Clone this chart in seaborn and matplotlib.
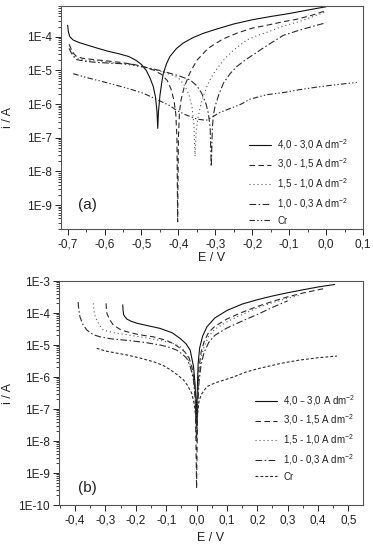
import math
import matplotlib
matplotlib.use("Agg")
import matplotlib.pyplot as plt
import matplotlib.ticker as mticker
import seaborn as sns

# ---------------- panel (a) data ----------------
a_solid_E = [-0.700, -0.698, -0.694, -0.685, -0.670, -0.650, -0.620, -0.590, -0.560, -0.535, -0.515,
             -0.500, -0.487, -0.477, -0.468, -0.462, -0.458, -0.456, -0.454, -0.450, -0.445, -0.441,
             -0.432, -0.423, -0.405, -0.387, -0.360, -0.333, -0.300, -0.250, -0.200, -0.150, -0.100,
             -0.050, 0.000]
a_solid_i = [2.2e-4, 1.4e-4, 1.0e-4, 8.0e-5, 6.8e-5, 5.8e-5, 4.6e-5, 3.7e-5, 3.1e-5, 2.6e-5, 2.0e-5,
             1.5e-5, 1.0e-5, 6.0e-6, 3.3e-6, 1.6e-6, 6e-7, 1.9e-7, 6e-7, 1.8e-6, 4.5e-6, 8e-6,
             1.6e-5, 2.6e-5, 4.5e-5, 6.5e-5, 9.5e-5, 1.26e-4, 1.65e-4, 2.4e-4, 3.2e-4, 4.0e-4, 4.9e-4,
             6.2e-4, 7.8e-4]

a_dash_E = [-0.696, -0.690, -0.684, -0.676, -0.660, -0.630, -0.600, -0.560, -0.520, -0.490, -0.465,
            -0.445, -0.430, -0.420, -0.412, -0.407, -0.404, -0.402, -0.400, -0.397, -0.393, -0.385,
            -0.370, -0.350, -0.320, -0.280, -0.240, -0.200, -0.160, -0.116, -0.080, -0.040, 0.000]
a_dash_i = [6.0e-5, 4.2e-5, 3.2e-5, 2.6e-5, 2.3e-5, 2.1e-5, 1.95e-5, 1.75e-5, 1.5e-5, 1.25e-5, 1.0e-5,
            7.5e-6, 5e-6, 2.8e-6, 1.3e-6, 5e-7, 1e-7, 3.2e-10, 1e-7, 6e-7, 1.3e-6, 3e-6,
            8e-6, 2e-5, 4.5e-5, 8.5e-5, 1.3e-4, 1.8e-4, 2.2e-4, 2.8e-4, 3.3e-4, 4.3e-4, 6.0e-4]

a_dot_E = [-0.696, -0.690, -0.684, -0.676, -0.650, -0.612, -0.560, -0.520, -0.480, -0.450, -0.420,
           -0.400, -0.385, -0.372, -0.363, -0.358, -0.355, -0.352, -0.347, -0.341, -0.333, -0.320,
           -0.305, -0.296, -0.275, -0.251, -0.215, -0.190, -0.161, -0.120, -0.070, -0.030, 0.000]
a_dot_i = [5.5e-5, 3.8e-5, 2.8e-5, 2.3e-5, 2.0e-5, 1.9e-5, 1.6e-5, 1.4e-5, 1.15e-5, 9.5e-6, 7.5e-6,
           6e-6, 3.8e-6, 2e-6, 8e-7, 2.5e-7, 2.8e-8, 1.5e-7, 4e-7, 8e-7, 1.7e-6, 4e-6,
           8e-6, 1.1e-5, 2.2e-5, 4e-5, 8e-5, 1.05e-4, 1.35e-4, 2e-4, 2.9e-4, 4.2e-4, 5.5e-4]

a_dd_E = [-0.696, -0.690, -0.684, -0.676, -0.650, -0.612, -0.560, -0.531, -0.450, -0.400, -0.368,
          -0.350, -0.337, -0.325, -0.319, -0.314, -0.311, -0.308, -0.305, -0.301, -0.290, -0.278,
          -0.260, -0.242, -0.220, -0.200, -0.160, -0.116, -0.070, -0.025, 0.000]
a_dd_i = [4.5e-5, 3.3e-5, 2.6e-5, 2.1e-5, 1.85e-5, 1.7e-5, 1.6e-5, 1.55e-5, 1.0e-5, 7e-6, 5.2e-6,
          3.5e-6, 2.1e-6, 1e-6, 5.4e-7, 2e-7, 1.4e-8, 2e-7, 5e-7, 8.3e-7, 2e-6, 4.2e-6,
          8e-6, 1.3e-5, 2e-5, 2.8e-5, 5.5e-5, 1.1e-4, 1.6e-4, 2.2e-4, 2.6e-4]

a_cr_E = [-0.685, -0.650, -0.600, -0.540, -0.495, -0.460, -0.423, -0.405, -0.380, -0.350, -0.325,
          -0.310, -0.290, -0.260, -0.230, -0.206, -0.161, -0.116, -0.070, -0.025, 0.030, 0.083]
a_cr_i = [8e-6, 6.2e-6, 4.5e-6, 3e-6, 2.1e-6, 1.4e-6, 9e-7, 6.5e-7, 4.8e-7, 3.6e-7, 3.3e-7,
          4e-7, 5.5e-7, 7.4e-7, 1.0e-6, 1.4e-6, 1.9e-6, 2.2e-6, 2.7e-6, 3.2e-6, 3.8e-6, 4.4e-6]

# ---------------- panel (b) data ----------------
b_solid_E = [-0.243, -0.242, -0.240, -0.230, -0.215, -0.197, -0.160, -0.120, -0.080, -0.054, -0.035,
             -0.021, -0.010, -0.005, -0.002, 0.000, 0.002, 0.005, 0.010, 0.020, 0.034, 0.060, 0.100,
             0.150, 0.200, 0.250, 0.300, 0.350, 0.400, 0.455]
b_solid_i = [1.8e-4, 1.2e-4, 8.7e-5, 6.5e-5, 5.5e-5, 4.8e-5, 4e-5, 3.3e-5, 2.4e-5, 1.6e-5, 1.1e-5,
             6.9e-6, 2.1e-6, 6e-7, 1.5e-7, 3e-8, 3e-7, 2.5e-6, 8e-6, 1.9e-5, 3.7e-5, 7e-5, 1.2e-4,
             1.9e-4, 2.6e-4, 3.4e-4, 4.3e-4, 5.3e-4, 6.5e-4, 7.8e-4]

b_dash_E = [-0.298, -0.297, -0.295, -0.285, -0.274, -0.250, -0.230, -0.190, -0.142, -0.100, -0.076,
            -0.050, -0.038, -0.025, -0.015, -0.008, -0.004, 0.000, 0.004, 0.008, 0.015, 0.025, 0.040,
            0.060, 0.100, 0.150, 0.200, 0.250, 0.300, 0.350, 0.420]
b_dash_i = [2e-4, 1.3e-4, 9.5e-5, 6e-5, 4.2e-5, 3e-5, 2.6e-5, 2.1e-5, 1.8e-5, 1.4e-5, 1.1e-5,
            7.5e-6, 6e-6, 4e-6, 2e-6, 8e-7, 2e-7, 3.3e-10, 3e-7, 2e-6, 6e-6, 1.3e-5, 2.5e-5,
            3.8e-5, 6.5e-5, 1.05e-4, 1.6e-4, 2.3e-4, 3.2e-4, 4.2e-4, 5.8e-4]

b_dot_E = [-0.340, -0.338, -0.334, -0.320, -0.307, -0.270, -0.230, -0.170, -0.120, -0.080, -0.054,
           -0.040, -0.030, -0.018, -0.010, -0.004, 0.000, 0.004, 0.008, 0.015, 0.025, 0.040, 0.060,
           0.100, 0.150, 0.200, 0.250, 0.300, 0.340]
b_dot_i = [2e-4, 1.2e-4, 7.6e-5, 4.2e-5, 2.9e-5, 2.4e-5, 2.1e-5, 1.7e-5, 1.4e-5, 1.15e-5, 8.9e-6,
           6.5e-6, 4.3e-6, 2e-6, 8e-7, 2e-7, 2e-8, 2e-7, 1.2e-6, 4e-6, 9e-6, 1.9e-5, 3.1e-5,
           5.3e-5, 9e-5, 1.45e-4, 2.1e-4, 2.9e-4, 3.6e-4]

b_dd_E = [-0.390, -0.388, -0.384, -0.375, -0.361, -0.340, -0.318, -0.280, -0.230, -0.170, -0.120,
          -0.090, -0.065, -0.045, -0.032, -0.020, -0.010, -0.004, 0.000, 0.004, 0.008, 0.015, 0.025,
          0.040, 0.060, 0.100, 0.150, 0.200, 0.250, 0.300]
b_dd_i = [2.2e-4, 1.3e-4, 7.6e-5, 4.5e-5, 2.9e-5, 2.1e-5, 1.8e-5, 1.55e-5, 1.4e-5, 1.2e-5, 1e-5,
          8.5e-6, 6.9e-6, 5e-6, 3.8e-6, 2e-6, 8e-7, 2e-7, 1e-8, 1.5e-7, 7e-7, 2.5e-6, 6e-6,
          1.2e-5, 2e-5, 3.4e-5, 5.6e-5, 9e-5, 1.5e-4, 2.4e-4]

b_cr_E = [-0.329, -0.300, -0.260, -0.230, -0.190, -0.142, -0.110, -0.087, -0.065, -0.043, -0.030,
          -0.016, -0.008, -0.003, 0.000, 0.003, 0.008, 0.015, 0.034, 0.060, 0.090, 0.121, 0.160,
          0.200, 0.231, 0.280, 0.341, 0.400, 0.462]
b_cr_i = [7.9e-6, 6.5e-6, 5.5e-6, 4.9e-6, 4e-6, 3e-6, 2.3e-6, 1.7e-6, 1.2e-6, 8.1e-7, 5.5e-7,
          3.1e-7, 1.5e-7, 6e-8, 2e-8, 7e-8, 1.7e-7, 2.8e-7, 5e-7, 6.5e-7, 8e-7, 1e-6, 1.4e-6,
          1.8e-6, 2.1e-6, 2.7e-6, 3.4e-6, 4e-6, 4.5e-6]

labels_a = ["4,0 - 3,0 A dm$^{-2}$", "3,0 - 1,5 A dm$^{-2}$", "1,5 - 1,0 A dm$^{-2}$",
            "1,0 - 0,3 A dm$^{-2}$", "Cr"]
labels_b = ["4,0 \u2013 3,0 A dm$^{-2}$", "3,0 - 1,5 A dm$^{-2}$", "1,5 - 1,0 A dm$^{-2}$",
            "1,0 - 0,3 A dm$^{-2}$", "Cr"]
xticks_a = [-0.7, -0.6, -0.5, -0.4, -0.3, -0.2, -0.1, 0.0, 0.1]
xticks_b = [-0.4, -0.3, -0.2, -0.1, 0.0, 0.1, 0.2, 0.3, 0.4, 0.5]
yticks_a = [1e-9, 1e-8, 1e-7, 1e-6, 1e-5, 1e-4]
yticks_b = [1e-10, 1e-9, 1e-8, 1e-7, 1e-6, 1e-5, 1e-4, 1e-3]

# ---------------- style ----------------
sns.set_style("ticks")
plt.rcParams['font.family'] = ['Liberation Sans', 'DejaVu Sans']
plt.rcParams['mathtext.default'] = 'regular'

W, H = 373, 547
fig = plt.figure(figsize=(W / 100, H / 100), dpi=100)


def frac(l, t, r, b):
    return [l / W, 1 - b / H, (r - l) / W, (b - t) / H]


ax_a = fig.add_axes(frac(61, 6, 363, 229))
ax_b = fig.add_axes(frac(59, 281, 363, 505))

lw = 0.8
styles_a = [('-', '#111111'), ((0, (5, 3)), '#2a2a2a'), ((0, (1, 2.6)), '#555555'),
            ((0, (6, 2.2, 1.4, 2.2)), '#2a2a2a'), ((0, (5, 2, 1.2, 2, 1.2, 2)), '#2a2a2a')]
styles_b = [('-', '#111111'), ((0, (5, 3)), '#2a2a2a'), ((0, (1, 2.6)), '#555555'),
            ((0, (6, 2.2, 1.4, 2.2)), '#2a2a2a'), ((0, (2.6, 1.8)), '#2a2a2a')]

series_a = [(a_solid_E, a_solid_i), (a_dash_E, a_dash_i), (a_dot_E, a_dot_i),
            (a_dd_E, a_dd_i), (a_cr_E, a_cr_i)]
series_b = [(b_solid_E, b_solid_i), (b_dash_E, b_dash_i), (b_dot_E, b_dot_i),
            (b_dd_E, b_dd_i), (b_cr_E, b_cr_i)]

for ax, series, styles, labels in [(ax_a, series_a, styles_a, labels_a),
                                   (ax_b, series_b, styles_b, labels_b)]:
    for (E, i), (ls, col), lab in zip(series, styles, labels):
        sns.lineplot(x=E, y=i, ax=ax, color=col, linestyle=ls, linewidth=lw,
                     label=lab, sort=False, estimator=None)
    ax.set_yscale('log')

ax_a.set_xlim(-0.718, 0.1)
ax_a.set_ylim(1.95e-10, 8.2e-4)
ax_b.set_xlim(-0.453, 0.548)
ax_b.set_ylim(1e-10, 1e-3)

xfmt = mticker.FuncFormatter(lambda v, p: ("%.1f" % v).replace('.', ',').replace('-0,0', '0,0'))
yfmt = mticker.FuncFormatter(lambda v, p: "1E%d" % round(math.log10(v)))

for ax, xt, yt in [(ax_a, xticks_a, yticks_a), (ax_b, xticks_b, yticks_b)]:
    ax.set_xticks(xt)
    ax.xaxis.set_minor_locator(mticker.AutoMinorLocator(2))
    ax.set_yticks(yt)
    ax.yaxis.set_minor_locator(mticker.LogLocator(base=10, subs=[2, 3, 4, 5, 6, 7, 8, 9], numticks=30))
    ax.yaxis.set_minor_formatter(mticker.NullFormatter())
    ax.xaxis.set_major_formatter(xfmt)
    ax.yaxis.set_major_formatter(yfmt)
    ax.tick_params(axis='both', which='major', direction='out', length=4, width=0.7,
                   labelsize=8.5, pad=2.5, colors='#222222')
    ax.tick_params(axis='both', which='minor', direction='out', length=2, width=0.6,
                   colors='#222222')
    for s in ax.spines.values():
        s.set_color('#555555')
        s.set_linewidth(0.8)
    ax.set_xlabel("E / V", fontsize=9, color='#222222')
    ax.set_ylabel("i / A", fontsize=9, color='#222222')

ax_a.xaxis.set_label_coords(0.5, -0.105)
ax_a.yaxis.set_label_coords(-0.155, 0.5)
ax_b.xaxis.set_label_coords(0.5, -0.12)
ax_b.yaxis.set_label_coords(-0.148, 0.5)

ax_a.text(0.086, 0.108, "(a)", transform=ax_a.transAxes, fontsize=11, ha='center', va='center',
          color='#222222')
ax_b.text(0.092, 0.076, "(b)", transform=ax_b.transAxes, fontsize=11, ha='center', va='center',
          color='#222222')

for ax, (lx, ly) in [(ax_a, (249, 137)), (ax_b, (255, 393))]:
    ax.legend(loc='upper left', bbox_to_anchor=(lx / W, 1 - ly / H), bbox_transform=fig.transFigure,
              frameon=False, fontsize=7, handlelength=2.3, handletextpad=0.6, labelspacing=0.5,
              borderpad=0, borderaxespad=0, labelcolor='#222222')

fig.savefig("out.png", dpi=100)
